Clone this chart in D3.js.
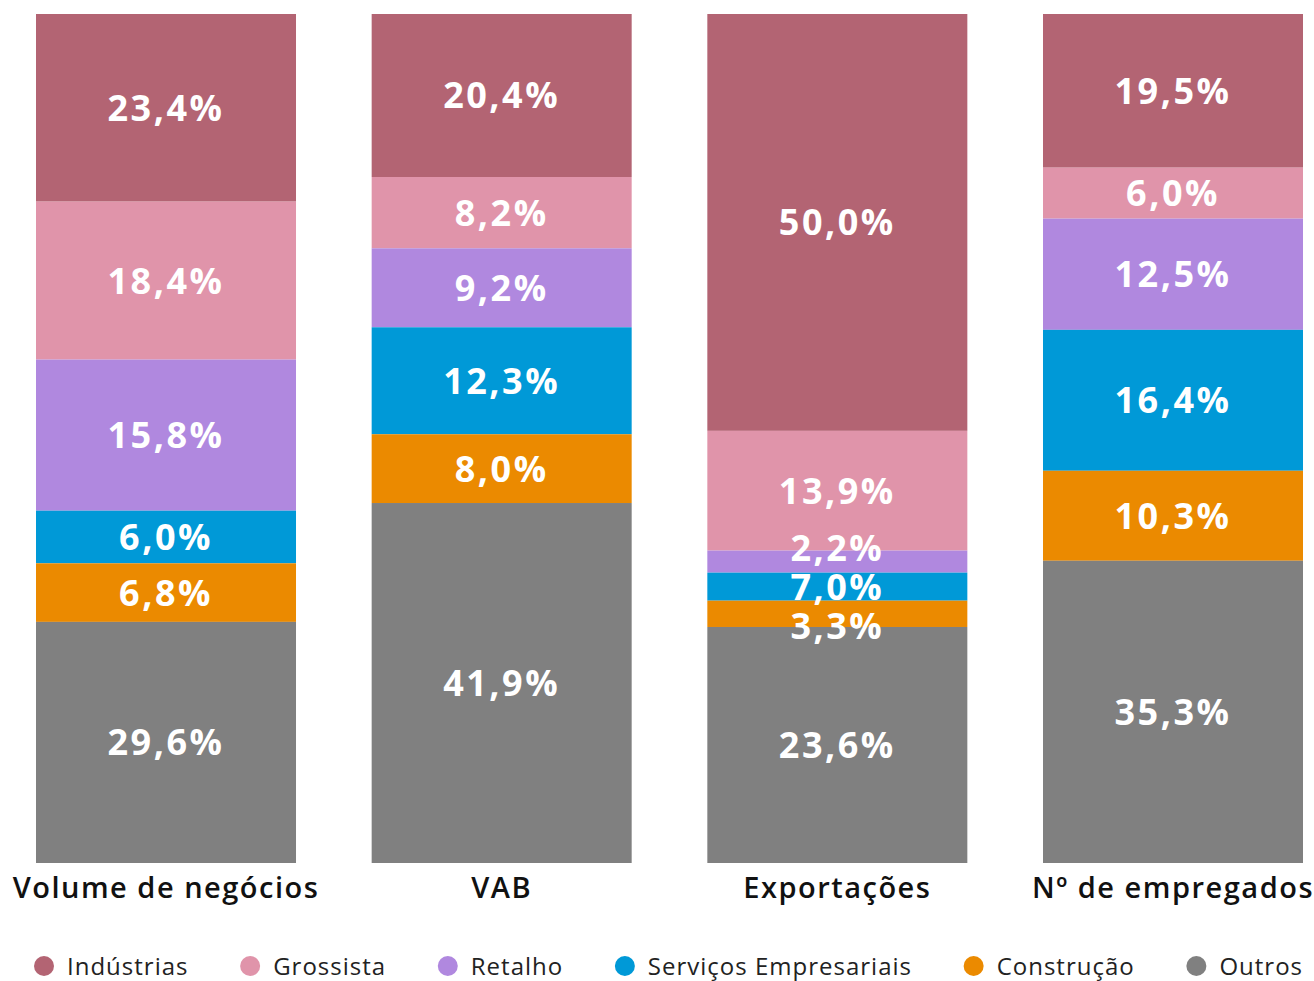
<!DOCTYPE html>
<html>
<head>
<meta charset="utf-8">
<script src="https://cdn.jsdelivr.net/npm/d3@7"></script>
<style>
  body { margin: 0; background: #fff; }
</style>
</head>
<body>
<div id="chart"></div>
<script>
// bars and sectors
let bars = ["Volume de negócios", "VAB", "Exportações", "Nº de empregados"];
let sectors = ["Indústrias", "Grossista", "Retalho", "Serviços Empresariais", "Construção", "Outros"];
let colors = ["#B36473", "#E094AA", "#B088DF", "#0099D7", "#EB8A00", "#808080"];

// segment sizes as they are drawn in the picture (%)
let volumeShares = [22.1, 18.6, 17.8, 6.2, 6.9, 28.4];
let vabShares = [19.2, 8.4, 9.3, 12.6, 8.1, 42.4];
let exportShares = [49.1, 14.1, 2.6, 3.3, 3.1, 27.8];
let empregoShares = [18.1, 6.0, 13.1, 16.6, 10.6, 35.6];

// values printed on the segments
let volumeLabels = ["23,4%", "18,4%", "15,8%", "6,0%", "6,8%", "29,6%"];
let vabLabels = ["20,4%", "8,2%", "9,2%", "12,3%", "8,0%", "41,9%"];
let exportLabels = ["50,0%", "13,9%", "2,2%", "7,0%", "3,3%", "23,6%"];
let empregoLabels = ["19,5%", "6,0%", "12,5%", "16,4%", "10,3%", "35,3%"];

let allShares = [volumeShares, vabShares, exportShares, empregoShares];
let allLabels = [volumeLabels, vabLabels, exportLabels, empregoLabels];

let width = 1314, height = 981;
let barTop = 14, barBottom = 863;

let svg = d3.select("#chart")
  .append("svg")
    .attr("width", width)
    .attr("height", height)
    .attr("font-family", "'Open Sans', sans-serif")
;

let x = d3.scaleBand()
  .domain(bars)
  .range([36, 1303])
  .paddingInner(0.2254)
  .paddingOuter(0)
;

let y = d3.scaleLinear()
  .domain([0, 100])
  .range([barTop, barBottom])
;

let color = d3.scaleOrdinal().domain(sectors).range(colors);

// build stacked rows
let rows = bars.map((b, i) => {
  let row = { bar: b };
  sectors.forEach((s, j) => row[s] = allShares[i][j]);
  return row;
});
let stacked = d3.stack().keys(sectors)(rows);

let layers = svg.selectAll(".layer").data(stacked).enter()
  .append("g")
    .attr("class", "layer")
    .attr("fill", d => color(d.key))
;

layers.selectAll("rect").data(d => d).enter()
  .append("rect")
    .attr("x", d => x(d.data.bar))
    .attr("width", x.bandwidth())
    .attr("y", d => y(d[0]))
    .attr("height", d => y(d[1]) - y(d[0]))
;

// labels, nudged apart where segments are thin
let minGap = 39;
bars.forEach((b, i) => {
  let items = sectors.map((s, j) => {
    let seg = stacked[j][i];
    return { text: allLabels[i][j], pos: (y(seg[0]) + y(seg[1])) / 2 };
  });
  for (let k = 0; k < 50; k++) {
    for (let j = 0; j < items.length - 1; j++) {
      let gap = items[j + 1].pos - items[j].pos;
      if (gap < minGap) {
        let push = (minGap - gap) / 2;
        items[j].pos -= push;
        items[j + 1].pos += push;
      }
    }
  }
  svg.append("g").selectAll("text").data(items).enter()
    .append("text")
      .attr("x", x(b) + x.bandwidth() / 2)
      .attr("y", d => d.pos)
      .attr("dy", "0.36em")
      .attr("text-anchor", "middle")
      .attr("fill", "white")
      .attr("font-size", 36)
      .attr("font-weight", 700)
      .attr("letter-spacing", 2.5)
      .text(d => d.text)
  ;
});

// category axis
let xAxis = svg.append("g")
  .attr("transform", `translate(0, ${barBottom})`)
  .call(d3.axisBottom(x).tickSize(0).tickPadding(14))
;
xAxis.select(".domain").remove();
xAxis.selectAll("text")
  .attr("font-family", "'Open Sans', sans-serif")
  .attr("font-size", 29)
  .attr("font-weight", 600)
  .attr("letter-spacing", 1.5)
  .attr("fill", "#111")
;

// legend, spread across the chart width
let legend = svg.append("g").attr("transform", "translate(0, 966)");
let items = legend.selectAll(".item").data(sectors).enter()
  .append("g")
    .attr("class", "item")
;
items.append("circle")
  .attr("r", 10)
  .attr("cx", 10)
  .attr("fill", d => color(d))
;
items.append("text")
  .attr("x", 33)
  .attr("dy", "0.36em")
  .attr("font-size", 24)
  .attr("letter-spacing", 1)
  .attr("fill", "#222")
  .text(d => d)
;
let widths = [];
items.each(function(){ widths.push(this.getBBox().width); });
let spare = (1303 - 34) - d3.sum(widths);
let step = spare / (sectors.length - 1);
let pos = 34;
items.attr("transform", (d, i) => {
  let t = `translate(${pos}, 0)`;
  pos += widths[i] + step;
  return t;
});
</script>
</body>
</html>
